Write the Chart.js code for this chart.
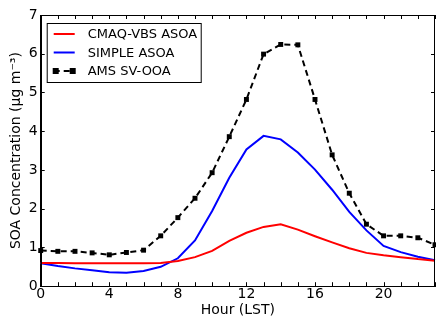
<!DOCTYPE html>
<html>
<head>
<meta charset="utf-8">
<script src="https://cdn.jsdelivr.net/npm/chart.js@4"></script>
<style>
  html, body { margin: 0; padding: 0; background: #fff; }
  #wrap { width: 436px; height: 321px; }
</style>
</head>
<body>
<div id="wrap"><canvas id="soa-chart"></canvas></div>
<script>
// Hours of the day (LST)
const hours = [0, 1, 2, 3, 4, 5, 6, 7, 8, 9, 10, 11, 12, 13, 14, 15, 16, 17, 18, 19, 20, 21, 22, 23];

// CMAQ-VBS ASOA
const cmaqVbs = [0.60, 0.60, 0.59, 0.59, 0.59, 0.59, 0.59, 0.60, 0.65, 0.75, 0.91, 1.17, 1.38, 1.53, 1.60, 1.46, 1.29, 1.13, 0.98, 0.86, 0.80, 0.75, 0.70, 0.66];

// SIMPLE ASOA
const simple = [0.59, 0.52, 0.46, 0.41, 0.36, 0.35, 0.39, 0.50, 0.72, 1.18, 1.94, 2.80, 3.53, 3.88, 3.79, 3.45, 3.01, 2.49, 1.92, 1.44, 1.04, 0.88, 0.76, 0.67];

// AMS SV-OOA
const amsSvOoa = [0.92, 0.90, 0.90, 0.86, 0.81, 0.87, 0.93, 1.30, 1.77, 2.27, 2.93, 3.86, 4.82, 5.99, 6.24, 6.23, 4.82, 3.39, 2.40, 1.60, 1.30, 1.30, 1.25, 1.07];

const seriesLabels = ['CMAQ-VBS ASOA', 'SIMPLE ASOA', 'AMS SV-OOA'];
const yTicks = [0, 1, 2, 3, 4, 5, 6, 7];

const FONT = 'DejaVu Sans';

function toPoints(values) {
    return hours.map((h, i) => ({ x: h, y: values[i] }));
}

// Тики внутрь области графика + рамка сверху и справа, как в matplotlib
const innerTicksPlugin = {
    id: 'innerTicks',
    afterDatasetsDraw(chart) {
        const ctx = chart.ctx;
        const area = chart.chartArea;
        const xs = chart.scales.x;
        const ys = chart.scales.y;
        const len = 4;
        ctx.save();
        ctx.strokeStyle = '#000';
        ctx.lineWidth = 1;
        ctx.beginPath();
        hours.forEach(h => {
            const px = Math.round(xs.getPixelForValue(h)) + 0.5;
            ctx.moveTo(px, area.bottom);
            ctx.lineTo(px, area.bottom - len);
            ctx.moveTo(px, area.top);
            ctx.lineTo(px, area.top + len);
        });
        yTicks.forEach(v => {
            const py = Math.round(ys.getPixelForValue(v)) + 0.5;
            ctx.moveTo(area.left, py);
            ctx.lineTo(area.left + len, py);
            ctx.moveTo(area.right, py);
            ctx.lineTo(area.right - len, py);
        });
        ctx.stroke();
        ctx.strokeRect(Math.round(area.left) + 0.5, Math.round(area.top) + 0.5,
            Math.round(area.right - area.left) - 1, Math.round(area.bottom - area.top));
        ctx.restore();
    }
};

// Легенда внутри области графика (верхний левый угол)
const insideLegendPlugin = {
    id: 'insideLegend',
    afterDraw(chart) {
        const ctx = chart.ctx;
        const area = chart.chartArea;
        const x0 = area.left + 6;
        const y0 = area.top + 8;
        const w = 154;
        const h = 59;
        ctx.save();
        ctx.fillStyle = '#fff';
        ctx.fillRect(x0, y0, w, h);
        ctx.strokeStyle = '#000';
        ctx.lineWidth = 1;
        ctx.strokeRect(x0 + 0.5, y0 + 0.5, w, h);
        ctx.font = '13px "' + FONT + '"';
        ctx.textBaseline = 'middle';
        chart.data.datasets.forEach((ds, i) => {
            const cy = y0 + 11 + i * 18.5;
            ctx.strokeStyle = ds.borderColor;
            ctx.lineWidth = 2;
            ctx.setLineDash(ds.borderDash || []);
            ctx.beginPath();
            ctx.moveTo(x0 + 7, cy);
            ctx.lineTo(x0 + 28, cy);
            ctx.stroke();
            ctx.setLineDash([]);
            if (ds.pointRadius > 0) {
                ctx.fillStyle = ds.pointBackgroundColor;
                [x0 + 9, x0 + 26].forEach(px => {
                    ctx.fillRect(px - 3, cy - 3, 6, 6);
                });
            }
            ctx.fillStyle = '#000';
            ctx.fillText(ds.label, x0 + 41, cy + 1);
        });
        ctx.restore();
    }
};

new Chart(document.getElementById('soa-chart').getContext('2d'), {
    type: 'line',
    data: {
        datasets: [{
            label: seriesLabels[0],
            data: toPoints(cmaqVbs),
            borderColor: '#ff0000',
            borderWidth: 2,
            pointRadius: 0,
            tension: 0,
            fill: false
        }, {
            label: seriesLabels[1],
            data: toPoints(simple),
            borderColor: '#0000ff',
            borderWidth: 2,
            pointRadius: 0,
            tension: 0,
            fill: false
        }, {
            label: seriesLabels[2],
            data: toPoints(amsSvOoa),
            borderColor: '#000000',
            borderWidth: 2,
            borderDash: [6, 4],
            pointStyle: 'rect',
            pointRadius: 3.5,
            pointBackgroundColor: '#000000',
            pointBorderColor: '#000000',
            pointBorderWidth: 0,
            tension: 0,
            fill: false
        }]
    },
    options: {
        responsive: true,
        maintainAspectRatio: false,
        animation: false,
        clip: false,
        layout: {
            autoPadding: false,
            padding: { left: 8, right: 1, top: 15, bottom: 2 }
        },
        plugins: {
            legend: { display: false },
            tooltip: { enabled: false }
        },
        scales: {
            x: {
                type: 'linear',
                min: 0,
                max: 23,
                // без запаса справа под подпись последнего тика
                afterFit: scale => { scale.paddingRight = 0; },
                grid: { display: false, drawTicks: false },
                border: { display: true, color: '#000', width: 1 },
                ticks: {
                    stepSize: 1,
                    autoSkip: false,
                    maxRotation: 0,
                    padding: 1,
                    color: '#000',
                    font: { family: FONT, size: 14, lineHeight: 1 },
                    callback: v => (v % 4 === 0 ? v : '')
                },
                title: {
                    display: true,
                    text: 'Hour (LST)',
                    color: '#000',
                    font: { family: FONT, size: 14 },
                    padding: { top: 0, bottom: 0 }
                }
            },
            y: {
                min: 0,
                max: 7,
                grid: { display: false, drawTicks: false },
                border: { display: true, color: '#000', width: 1 },
                ticks: {
                    stepSize: 1,
                    padding: 3,
                    color: '#000',
                    font: { family: FONT, size: 14 }
                },
                title: {
                    display: true,
                    text: 'SOA Concentration (μg m⁻³)',
                    color: '#000',
                    font: { family: FONT, size: 14 },
                    padding: { top: 0, bottom: 1 }
                }
            }
        }
    },
    plugins: [innerTicksPlugin, insideLegendPlugin]
});
</script>
</body>
</html>
